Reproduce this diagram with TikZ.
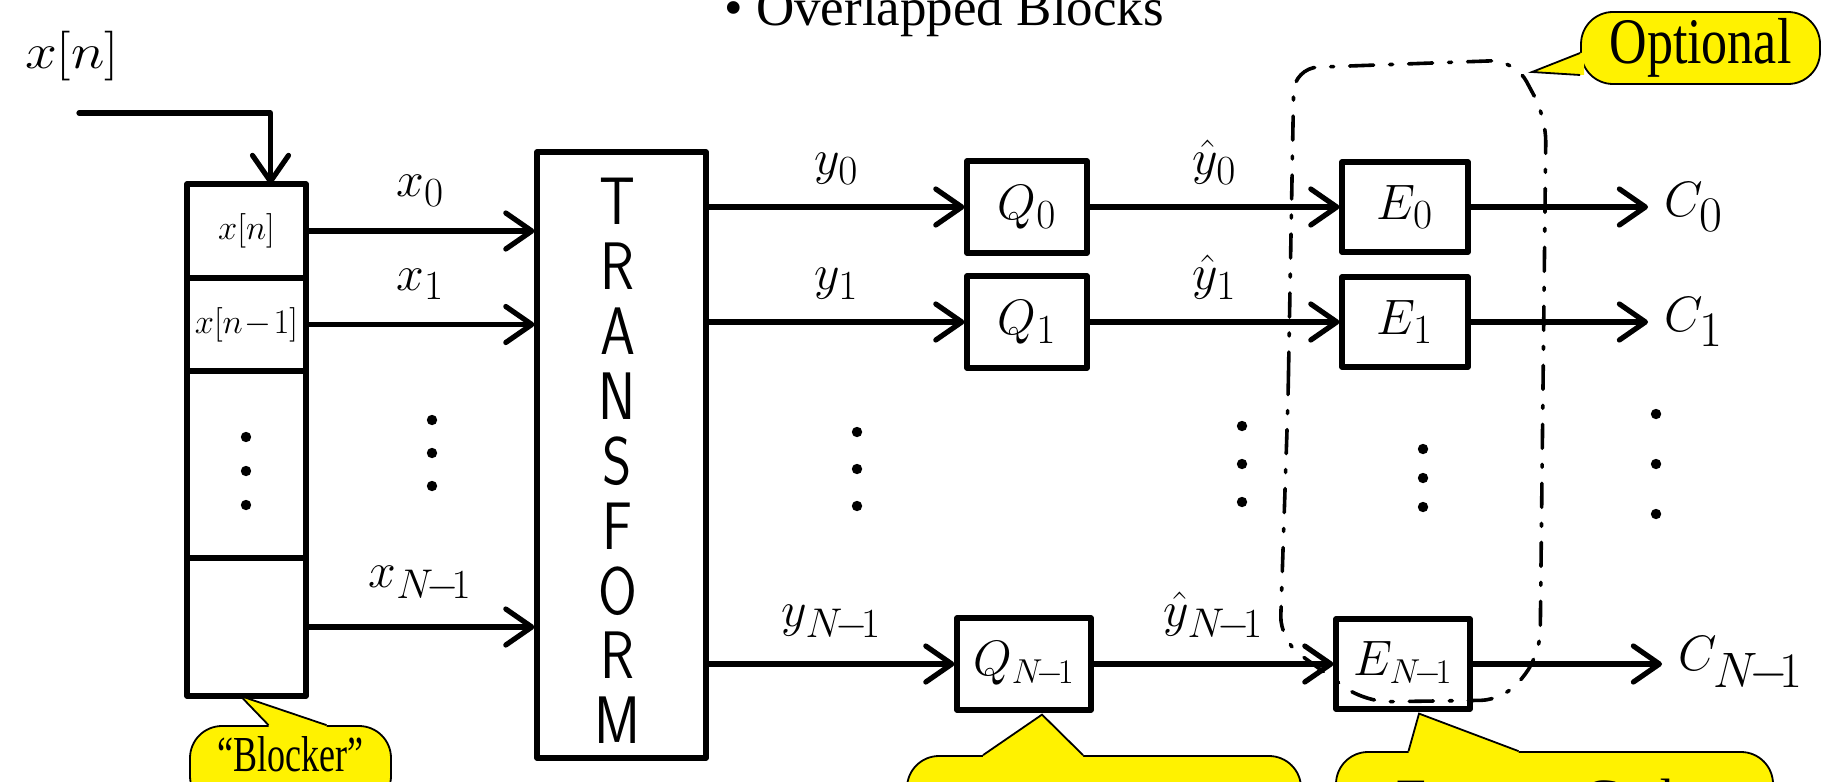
\documentclass[tikz,border=0pt]{standalone}
\usepackage{fontspec}
\setmainfont{Liberation Serif}
\usepackage{amsmath}
\usetikzlibrary{arrows.meta,positioning,calc}

\newcommand{\tall}[2]{\scalebox{1}[#1]{#2}}

\begin{document}
\begin{tikzpicture}[
    x=0.5pt, y=-0.5pt,
    >={Straight Barb[length=13pt,width=18pt,round]},
    hand/.style={line width=2.6pt, line cap=round, line join=round},
    cell/.style={draw, hand, minimum width=59.5pt, inner sep=0pt, outer sep=0pt, font=\fontsize{16}{16}\selectfont},
    qbox/.style={draw, hand, minimum width=60pt, minimum height=46pt, inner sep=0pt, font=\fontsize{30}{30}\selectfont},
    ebox/.style={draw, hand, minimum width=63pt, minimum height=45pt, inner sep=0pt, font=\fontsize{30}{30}\selectfont},
    lastbox/.style={minimum width=67pt, font=\fontsize{27}{27}\selectfont},
    sig/.style={inner sep=3pt, font=\fontsize{28}{28}\selectfont},
    outlab/.style={inner sep=8pt, anchor=west, font=\fontsize{33}{33}\selectfont},
    letter/.style={inner sep=0pt, font=\sffamily\fontsize{28}{28}\selectfont},
    note/.style={draw, line width=0.9pt, fill=yellow, rounded corners=16pt, inner sep=0pt},
    tail/.style={line width=0.9pt, line join=miter},
    region/.style={line width=1.8pt, line cap=round, rounded corners=12pt,
      dash pattern=on 12pt off 8pt on 1.5pt off 8pt}
  ]
  \useasboundingbox (0,0) rectangle (1829,781);

  % heading
  \node[anchor=base west, inner sep=0pt, font=\fontsize{26.5}{27}\selectfont] (title) at (724,26) {• Overlapped Blocks};

  % blocker
  \node[inner sep=0pt, font=\fontsize{62}{62}\selectfont] (xin) at (72,56) {\scalebox{1.15}[1]{$x[n]$}};
  \node[cell, minimum height=47pt] (cell0) at (246.5,231) {$x[n]$};
  \node[cell, minimum height=46.5pt, below=0pt of cell0] (cell1) {$x[n\!-\!1]$};
  \node[cell, minimum height=93.5pt, below=0pt of cell1] (cell2) {};
  \node[cell, minimum height=69pt, below=0pt of cell2] (cellN) {};
  \coordinate (start) at (79,113);
  \draw[->, hand] (start) -| ([xshift=12pt]cell0.north);

  % transform
  \node[draw, hand, minimum width=84.5pt, minimum height=303pt] (tf) at (621.5,455) {};
  \foreach \c [count=\i] in {T,R,A,N,S,F,O,R,M}
    \node[letter] at ($(tf.north)+(-4,\i*64.9-13)$) {\tall{1.2}{\c}};

  % quantizers and coders
  \node[qbox] (q0) at (1027,207) {$Q_0$};
  \node[qbox] (q1) at (1027,322) {$Q_1$};
  \node[qbox, lastbox] (qN) at (1024,664) {$Q_{N\!-\!1}$};
  \node[ebox] (e0) at (1405,207) {$E_0$};
  \node[ebox] (e1) at (1405,322) {$E_1$};
  \node[ebox, lastbox] (eN) at (1403,664) {$E_{N\!-\!1}$};
  \node[outlab] (c0) at (1648,207) {$C_0$};
  \node[outlab] (c1) at (1648,322) {$C_1$};
  \node[outlab] (cN) at (1662,664) {$C_{N\!-\!1}$};

  \draw[->, hand] (cell0.east) -- (cell0.east -| tf.west) node[midway, sig, above=8pt] {$x_0$};
  \draw[->, hand] (cell1.east) -- (cell1.east -| tf.west) node[midway, sig, above=8pt] {$x_1$};
  \draw[->, hand] (cellN.east) -- (cellN.east -| tf.west) node[midway, sig, above=8pt] {$x_{N\!-\!1}$};
  \draw[->, hand] (tf.east |- q0) -- (q0) node[midway, sig, above=7pt] {$y_0$};
  \draw[->, hand] (tf.east |- q1) -- (q1) node[midway, sig, above=7pt] {$y_1$};
  \draw[->, hand] (tf.east |- qN) -- (qN) node[midway, sig, above=7pt] {$y_{N\!-\!1}$};
  \draw[->, hand] (q0) -- (e0) node[midway, sig, above=7pt] {$\hat{y}_0$};
  \draw[->, hand] (q1) -- (e1) node[midway, sig, above=7pt] {$\hat{y}_1$};
  \draw[->, hand] (qN) -- (eN) node[midway, sig, above=7pt] {$\hat{y}_{N\!-\!1}$};
  \draw[->, hand] (e0) -- (c0);
  \draw[->, hand] (e1) -- (c1);
  \draw[->, hand] (eN) -- (cN);

  % the skipped rows
  \foreach \px/\py/\dy in {246/437/34, 432/420/33, 857/432/37, 1242/426/38, 1423/449/29, 1656/414/50}
    \foreach \k in {0,1,2}
      \fill (\px,\py+\k*\dy) circle (2.6pt);

  % optional part
  \draw[region] (1288,400) -- (1294,68) -- (1515,60) -- (1546,118)
    -- (1540,655) -- (1505,700) -- (1365,702) -- (1280,640) -- cycle;

  % callouts
  \node[note, minimum width=119.5pt, minimum height=36pt, font=\fontsize{26}{26}\selectfont] (optNote) at (1700.5,48) {\tall{1.25}{Optional}};
  \coordinate (optTip) at (1532,72);
  \fill[yellow] ($(optNote.west)+(0,5)$) -- (optTip) -- ($(optNote.west)+(0,27)$)
    -- ($(optNote.west)+(4,27)$) -- ($(optNote.west)+(4,5)$) -- cycle;
  \draw[tail] ($(optNote.west)+(0,5)$) -- (optTip) -- ($(optNote.west)+(0,27)$);

  \node[note, minimum width=100.5pt, minimum height=41pt] (blkNote) at (290.5,767) {};
  \node[anchor=base, inner sep=0pt, font=\fontsize{18}{18}\selectfont] (blkText) at (290.5,771) {\tall{1.4}{“Blocker”}};
  \coordinate (blkTip) at ([xshift=-3pt]cellN.south);
  \fill[yellow] ($(blkNote.north)+(-22,0)$) -- (blkTip) -- ($(blkNote.north)+(36,0)$)
    -- ($(blkNote.north)+(36,4)$) -- ($(blkNote.north)+(-22,4)$) -- cycle;
  \draw[tail] ($(blkNote.north)+(-22,0)$) -- (blkTip) -- ($(blkNote.north)+(36,0)$);

  \node[note, minimum width=197pt, minimum height=41pt] (qNote) at (1104,797) {};
  \coordinate (qTip) at ([xshift=9pt,yshift=-1pt]qN.south);
  \fill[yellow] ($(qNote.north)+(-121,0)$) -- (qTip) -- ($(qNote.north)+(-21,0)$)
    -- ($(qNote.north)+(-21,4)$) -- ($(qNote.north)+(-121,4)$) -- cycle;
  \draw[tail] ($(qNote.north)+(-121,0)$) -- (qTip) -- ($(qNote.north)+(-21,0)$);

  \node[note, minimum width=218.5pt, minimum height=41pt] (eNote) at (1554.5,793) {};
  \coordinate (eTip) at ([xshift=8pt,yshift=-1pt]eN.south);
  \fill[yellow] ($(eNote.north)+(-146,0)$) -- (eTip) -- ($(eNote.north)+(-36,0)$)
    -- ($(eNote.north)+(-36,4)$) -- ($(eNote.north)+(-146,4)$) -- cycle;
  \draw[tail] ($(eNote.north)+(-146,0)$) -- (eTip) -- ($(eNote.north)+(-36,0)$);
  \node[anchor=base, inner sep=0pt, font=\fontsize{27}{27}\selectfont] (eText) at (1556,816) {Entropy Coder};
\end{tikzpicture}
\end{document}
